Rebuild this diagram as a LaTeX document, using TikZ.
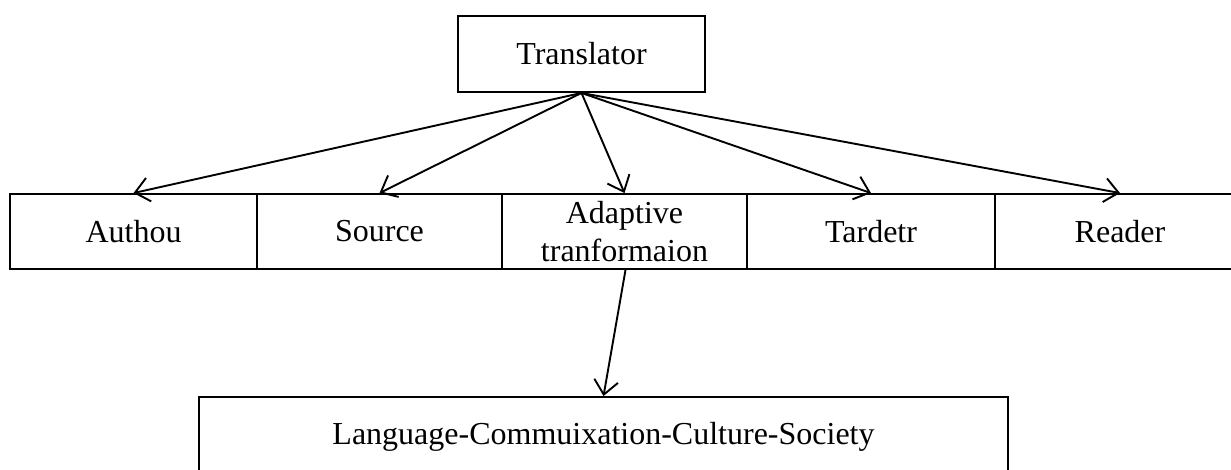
\documentclass[tikz,border=0pt]{standalone}
\usepackage{fontspec}
\setmainfont{Liberation Serif}
\usetikzlibrary{arrows.meta}
\begin{document}
\begin{tikzpicture}[x=1pt,y=-1pt,
  box/.style={draw=black,line width=1.9pt,inner sep=0pt,minimum height=75pt,align=center,
    font=\fontsize{32}{37.5}\selectfont},
  conn/.style={line width=1.9pt,-{Straight Barb[length=14pt,width=24pt,line width=1.9pt]}}]
\useasboundingbox (0,0) rectangle (1231,469);
\node[box,minimum width=247pt,minimum height=76pt] (tr) at (581.5,54) {Translator};
\node[box,minimum width=247pt] (au) at (133.5,231.5) {Authou};
\node[box,minimum width=245pt] (so) at (379.5,231.5) {Source};
\node[box,minimum width=245pt] (ad) at (624.5,231.5) {Adaptive\\tranformaion};
\node[box,minimum width=248pt] (ta) at (871,231.5) {Tardetr};
\node[box,minimum width=250pt] (re) at (1120,231.5) {Reader};
\node[box,minimum width=809pt,minimum height=80pt] (lc) at (603.5,437) {Language-Commuixation-Culture-Society};
\draw[conn] (tr.south) -- (au.north);
\draw[conn] (tr.south) -- (so.north);
\draw[conn] (tr.south) -- (ad.north);
\draw[conn] (tr.south) -- (ta.north);
\draw[conn] (tr.south) -- (re.north);
\draw[conn] ([xshift=1pt]ad.south) -- (lc.north);
\end{tikzpicture}
\end{document}
